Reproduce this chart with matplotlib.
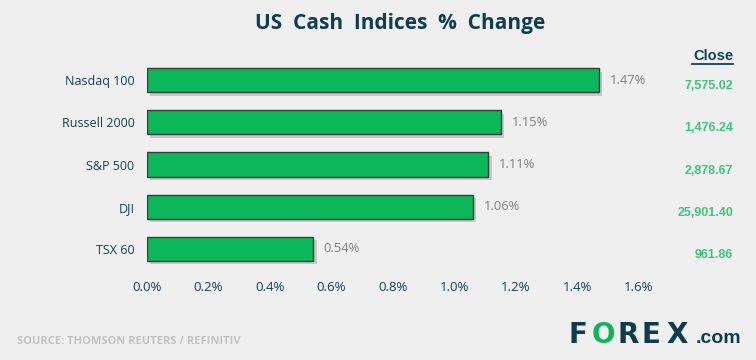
import matplotlib.pyplot as plt
import matplotlib.patheffects as pe

# data
indices = ['Nasdaq 100', 'Russell 2000', 'S&P 500', 'DJI', 'TSX 60']
pct_change = [1.47, 1.15, 1.11, 1.06, 0.54]
close_vals = ['7,575.02', '1,476.24', '2,878.67', '25,901.40', '961.86']
xticks = [0.0, 0.2, 0.4, 0.6, 0.8, 1.0, 1.2, 1.4, 1.6]

bg = '#efefef'
navy = '#15405a'
green = '#0cb65b'

fig = plt.figure(figsize=(7.56, 3.6), dpi=100, facecolor=bg)
ax = fig.add_axes([147 / 756, 0.25, (639 - 147) / 756, 0.586], facecolor=bg)

ypos = list(range(len(indices)))
bars = ax.barh(ypos, pct_change, height=0.57, color=green, edgecolor='#3a3a3a', linewidth=1.0)
for b in bars:
    b.set_path_effects([pe.SimplePatchShadow(offset=(2.5, -2.5), shadow_rgbFace='#999999', alpha=0.45), pe.Normal()])

for y, v in zip(ypos, pct_change):
    ax.text(v + 0.035, y, f'{v:.2f}%', va='center', ha='left', fontsize=9.3,
            color='#808080', family='Open Sans')

ax.set_xlim(0, 1.6)
ax.set_ylim(len(indices) - 0.5, -0.5)
ax.set_yticks(ypos)
ax.set_yticklabels(indices, fontsize=9, color=navy, family='Open Sans')
ax.set_xticks(xticks)
ax.set_xticklabels([f'{t:.1f}%' for t in xticks], fontsize=9.5, color=navy, family='Open Sans')
ax.tick_params(length=0, pad=8)
ax.tick_params(axis='y', pad=9)
for s in ax.spines.values():
    s.set_visible(False)

# close column
fig.text(733 / 756, 1 - 56 / 360, 'Close', ha='right', va='center', fontsize=10.5,
         fontweight='bold', color=navy, family='Liberation Sans')
fig.add_artist(plt.Line2D([692 / 756, 733 / 756], [1 - 64 / 360, 1 - 64 / 360], color=navy, lw=1.3))
for y, c in zip(ypos, close_vals):
    yy = ax.transData.transform((0, y))[1]
    yf = fig.transFigure.inverted().transform((0, yy))[1]
    fig.text(733 / 756, yf - 6 / 360, c, ha='right', va='center', fontsize=9,
             fontweight='bold', color='#3ec47f', family='Liberation Sans')

fig.text(400 / 756, 1 - 24 / 360, 'US  Cash  Indices  %  Change', ha='center', va='center',
         fontsize=15, fontweight='bold', color='#0f3d52', family='Open Sans')

fig.text(17 / 756, 1 - 341 / 360, 'SOURCE: THOMSON REUTERS / REFINITIV', ha='left', va='center',
         fontsize=8, fontweight='bold', color='#c2c2c2', family='Open Sans')

# logo
base = 1 - 343 / 360
logo_letters = ['F', 'O', 'R', 'E', 'X']
logo_x = [578, 603, 628, 651, 677]
for ch, lx in zip(logo_letters, logo_x):
    fig.text(lx / 756, base, ch, ha='center', va='baseline', fontsize=20, fontweight='heavy',
             color='#10b45a' if ch == 'O' else '#0e3b4e', family='DejaVu Sans')
fig.text(696 / 756, base, '.com', ha='left', va='baseline', fontsize=14, fontweight='bold',
         color='#0e3b4e', family='Liberation Sans')

fig.savefig('out.png', dpi=100, facecolor=bg)
